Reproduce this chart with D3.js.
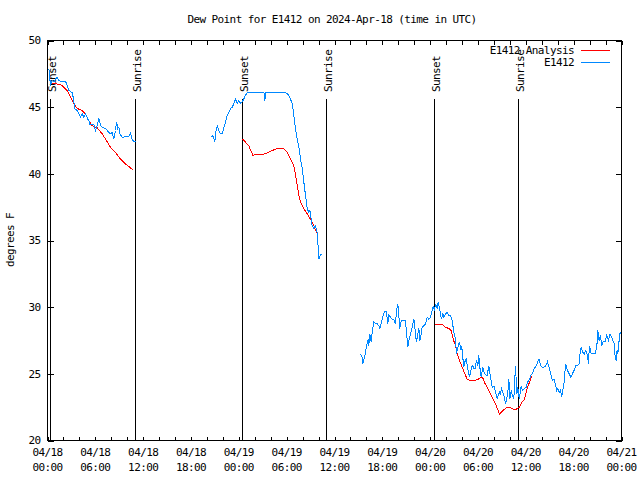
<!DOCTYPE html>
<html><head><meta charset="utf-8">
<script src="https://cdn.jsdelivr.net/npm/d3@7"></script>
<style>
html,body{margin:0;padding:0;background:#fff;}
svg{display:block;}
text{font-family:"DejaVu Sans Mono","Liberation Mono",monospace;font-size:11px;letter-spacing:-0.6px;fill:#000;}
</style></head>
<body><svg id="chart" width="640" height="480"></svg>
<script>
const title = "Dew Point for E1412 on 2024-Apr-18 (time in UTC)";
const yLabel = "degrees F";
const seriesNames = ["E1412 Analysis", "E1412"];
const yTicks = [20, 25, 30, 35, 40, 45, 50];
const xTickHours = [0,2,4,6,8,10,12,14,16,18,20,22,24,26,28,30,32,34,36,38,40,42,44,46,48,50,52,54,56,58,60,62,64,66,68,70,72];
const xLabelHours = [0,6,12,18,24,30,36,42,48,54,60,66,72];
const xLabelDays  = ["04/18","04/18","04/18","04/18","04/19","04/19","04/19","04/19","04/20","04/20","04/20","04/20","04/21"];
const xLabelTimes = ["00:00","06:00","12:00","18:00","00:00","06:00","12:00","18:00","00:00","06:00","12:00","18:00","00:00"];
const eventNames = ["Sunset","Sunrise","Sunset","Sunrise","Sunset","Sunrise"];
const eventHours = [0.38, 11.08, 24.5, 35.09, 48.58, 59.12];

// Analysis (red), [hours since 04/18 00:00 UTC, dew point F]
const analysisSeg1 = [[0.4,46.8],[1.0,46.75],[1.63,46.7],[2.04,46.5],[2.47,46.25],[2.89,45.75],[3.3,45.25],[3.73,44.9],[4.35,44.75],[4.77,44.5],[5.18,44.0],[5.61,43.6],[6.23,43.45],[6.86,43.0],[7.49,42.4],[7.9,42.0],[8.53,41.6],[9.24,41.05],[9.87,40.7],[10.5,40.4],[10.75,40.3]];
const analysisSeg2 = [[24.5,42.6],[25.25,42.1],[25.75,41.4],[26.5,41.45],[27.35,41.5],[28.2,41.75],[28.8,41.9],[29.64,41.9],[30.07,41.6],[30.48,41.1],[30.9,40.6],[31.2,39.6],[31.52,38.4],[31.74,37.9],[32.15,37.4],[32.58,37.0],[32.99,36.6],[33.4,36.1],[33.83,35.5]];
const analysisSeg3 = [[48.55,28.7],[49.51,28.7],[49.92,28.5],[50.34,28.4],[50.64,28.25],[50.89,27.6],[51.18,27.1],[51.39,26.5],[51.68,26.0],[52.02,25.5],[52.35,25.0],[52.65,24.6],[52.97,24.5],[53.48,24.5],[53.9,24.55],[54.4,24.75],[54.65,24.65],[54.85,24.3],[55.16,24.0],[55.48,23.6],[55.78,23.25],[56.2,22.75],[56.41,22.4],[56.7,22.0],[57.04,22.2],[57.45,22.4],[57.74,22.5],[58.08,22.45],[58.49,22.35],[58.7,22.3],[58.92,22.4],[59.21,22.5],[59.55,22.9],[59.75,23.0],[59.96,23.4],[60.17,23.9],[60.38,24.25],[60.59,24.6],[60.71,24.8]];

// Observations (blue)
const obsSeg1 = [[0.17,47.9],[0.38,46.6],[0.59,47.0],[0.8,46.9],[1.01,47.1],[1.22,47.25],[1.42,47.0],[1.63,46.95],[2.05,46.95],[2.26,46.95],[2.47,46.6],[2.67,46.25],[3.1,46.1],[3.3,45.5],[3.39,44.9],[3.73,44.75],[3.94,44.5],[4.14,44.25],[4.35,44.5],[4.56,44.25],[4.77,44.5],[5.06,44.1],[5.18,44.0],[5.31,43.7],[5.81,43.7],[6.02,43.25],[6.23,43.6],[6.44,44.2],[6.65,43.6],[6.86,43.5],[7.28,43.4],[7.49,43.25],[7.9,43.0],[8.11,43.1],[8.32,42.6],[8.53,43.25],[8.66,43.9],[8.82,43.4],[8.95,43.5],[9.07,43.0],[9.37,42.75],[9.57,42.75],[9.78,42.8],[10.2,42.8],[10.41,43.05],[10.62,42.6],[10.83,42.4],[11.04,42.4]];
const obsSeg2 = [[20.57,42.75],[20.74,42.9],[20.99,42.4],[21.15,43.3],[21.29,43.6],[21.49,43.25],[21.7,43.0],[21.9,43.0],[22.1,43.4],[22.33,43.9],[22.54,44.4],[22.74,44.6],[22.96,44.9],[23.17,45.0],[23.37,45.25],[23.58,45.6],[23.8,45.3],[24.0,45.5],[24.2,45.3],[24.42,45.4],[24.62,45.6],[24.84,45.9],[25.05,46.1],[27.15,46.1],[27.26,45.5],[27.4,46.1],[29.8,46.1],[30.07,46.0],[30.27,45.9],[30.48,45.6],[30.7,45.25],[30.9,44.4],[31.1,43.4],[31.32,42.6],[31.52,42.1],[31.74,41.1],[31.95,40.4],[32.15,39.4],[32.36,38.4],[32.58,37.4],[32.78,37.1],[32.9,37.3],[32.99,36.9],[33.2,36.1],[33.4,35.9],[33.62,36.1],[33.83,35.6],[33.96,34.4],[34.03,33.6],[34.24,33.9],[34.46,34.0]];
const obsSeg3 = [[39.26,26.5],[39.48,26.25],[39.55,25.75],[39.76,26.25],[39.89,26.6],[40.02,27.1],[40.23,27.6],[40.3,27.1],[40.43,28.0],[40.6,27.4],[40.73,28.1],[40.93,28.9],[41.14,28.75],[41.35,28.75],[41.56,28.6],[41.68,28.4],[41.85,28.75],[42.06,29.25],[42.27,29.7],[42.49,29.7],[42.69,28.75],[42.81,29.4],[43.03,29.25],[43.24,29.1],[43.44,29.1],[43.65,28.75],[43.78,29.75],[43.94,30.25],[44.07,29.4],[44.19,28.4],[44.37,29.0],[44.91,29.0],[45.03,28.1],[45.2,27.0],[45.32,27.5],[45.53,28.0],[45.75,28.5],[45.95,29.1],[46.07,28.6],[46.16,27.9],[46.29,27.4],[46.45,28.0],[46.58,28.4],[46.7,27.5],[46.88,28.0],[47.0,28.5],[47.2,28.6],[47.42,28.75],[47.63,29.25],[47.83,29.1],[48.04,29.2],[48.38,30.1],[48.55,29.75],[48.67,30.25],[48.88,29.9],[49.01,30.4],[49.17,29.9],[49.3,29.5],[49.42,29.1],[49.59,29.5],[49.71,29.25],[49.92,29.5],[50.14,29.6],[50.34,29.4],[50.55,29.4],[50.76,29.0],[50.97,28.1],[51.18,27.6],[51.3,26.5],[51.52,27.1],[51.68,27.4],[51.81,26.9],[51.95,27.1],[52.09,26.25],[52.22,25.5],[52.35,25.9],[52.52,26.1],[52.65,25.6],[52.77,25.25],[52.94,24.75],[53.06,25.1],[53.19,25.5],[53.35,25.6],[53.48,25.4],[53.65,25.4],[53.81,26.0],[53.98,25.6],[54.1,26.4],[54.23,25.5],[54.4,24.75],[54.6,25.5],[54.82,25.0],[55.03,24.9],[55.15,24.9],[55.36,25.6],[55.48,25.1],[55.66,24.4],[55.78,24.0],[56.0,24.1],[56.2,23.6],[56.41,23.1],[56.54,23.4],[56.7,23.6],[56.8,23.5],[56.95,23.9],[57.11,23.6],[57.24,23.4],[57.45,22.75],[57.58,23.1],[57.74,23.6],[57.87,24.6],[57.99,23.1],[58.17,23.75],[58.29,23.4],[58.49,23.1],[58.7,25.6],[58.88,23.5],[59.0,24.0],[59.17,23.1],[59.29,23.6],[59.42,24.1],[59.58,23.75],[59.83,23.9],[60.04,24.0],[60.25,24.4],[60.45,24.6],[60.66,24.9],[60.87,25.1],[61.07,25.4],[61.28,25.6],[61.5,25.9],[61.66,26.1],[61.87,25.6],[62.08,25.5],[62.29,25.5],[62.5,25.6],[62.71,25.9],[62.92,25.5],[63.13,25.0],[63.33,24.5],[63.54,24.6],[63.75,24.1],[63.88,23.75],[64.0,23.9],[64.17,23.6],[64.34,23.75],[64.5,23.3],[64.63,23.75],[64.84,24.5],[64.92,25.25],[65.01,25.75],[65.22,25.25],[65.43,25.0],[65.64,24.75],[65.84,25.0],[66.05,25.25],[66.26,25.6],[66.47,25.6],[66.68,25.75],[66.8,26.5],[66.93,27.0],[67.14,26.6],[67.35,26.5],[67.52,26.75],[67.73,26.4],[67.85,25.75],[67.98,27.1],[68.19,26.5],[68.4,26.5],[68.69,26.5],[68.9,27.0],[69.03,28.25],[69.19,27.5],[69.36,27.9],[69.53,27.1],[69.69,27.4],[69.95,27.4],[70.16,27.9],[70.36,27.5],[70.57,28.0],[70.78,27.75],[70.98,27.4],[71.11,27.25],[71.2,26.25],[71.32,26.0],[71.45,26.75],[71.54,26.5],[71.7,27.5],[71.83,28.1],[71.95,28.1]];

const analysisSegs = [analysisSeg1, analysisSeg2, analysisSeg3];
const obsSegs = [obsSeg1, obsSeg2, obsSeg3];
const colors = {analysis: "#ff0000", obs: "#0088ff"};

const L = 47.5, R = 621.5, T = 40.5, B = 440.5;
const t0 = Date.UTC(2024, 3, 18);
const toDate = h => new Date(t0 + h * 3600e3);

const svg = d3.select("#chart");
svg.append("rect").attr("width",640).attr("height",480).attr("fill","#fff");

const x = d3.scaleUtc().domain([toDate(0), toDate(72)]).range([L, R]);
const y = d3.scaleLinear().domain([20, 50]).range([B, T]);

// axes (inward ticks, mirrored)
function styleAxis(g){ g.select(".domain").remove(); g.selectAll("line").attr("stroke","#000").attr("shape-rendering","crispEdges"); g.selectAll("text").remove(); }
const xTickDates = xTickHours.map(toDate);
svg.append("g").attr("transform",`translate(0,${B})`).call(d3.axisBottom(x).tickValues(xTickDates).tickSize(-4).tickFormat("")).call(styleAxis);
svg.append("g").attr("transform",`translate(0,${T})`).call(d3.axisTop(x).tickValues(xTickDates).tickSize(-4).tickFormat("")).call(styleAxis);
svg.append("g").attr("transform",`translate(${L},0)`).call(d3.axisLeft(y).tickValues(yTicks).tickSize(-6).tickFormat("")).call(styleAxis);
svg.append("g").attr("transform",`translate(${R},0)`).call(d3.axisRight(y).tickValues(yTicks).tickSize(-6).tickFormat("")).call(styleAxis);

// frame
svg.append("rect").attr("x",L).attr("y",T).attr("width",R-L).attr("height",B-T)
  .attr("fill","none").attr("stroke","#000").attr("shape-rendering","crispEdges");

// y tick labels
svg.append("g").selectAll("text").data(yTicks).join("text")
  .attr("x", L - 7).attr("y", d => y(d)).attr("dy","0.35em").attr("text-anchor","end").text(d => d);

// x tick labels (two lines)
const xl = svg.append("g").selectAll("g").data(xLabelHours).join("g")
  .attr("transform", d => `translate(${x(toDate(d))},0)`);
xl.append("text").attr("y", 452).attr("dy","0.35em").attr("text-anchor","middle").text((d,i) => xLabelDays[i]);
xl.append("text").attr("y", 467).attr("dy","0.35em").attr("text-anchor","middle").text((d,i) => xLabelTimes[i]);

// title & y label
svg.append("text").attr("x", 332).attr("y", 19).attr("dy","0.35em").attr("text-anchor","middle").text(title);
svg.append("text").attr("transform","translate(10,240) rotate(-90)").attr("dy","0.35em").attr("text-anchor","middle").text(yLabel);

// sunrise / sunset markers
const ev = svg.append("g").selectAll("g").data(eventHours).join("g")
  .attr("transform", d => `translate(${Math.round(x(toDate(d))) - 0.5},0)`);
ev.append("line").attr("y1", 99).attr("y2", B).attr("stroke","#000").attr("shape-rendering","crispEdges");
ev.append("text").attr("transform","translate(5,92) rotate(-90)").attr("text-anchor","start").text((d,i) => eventNames[i]);

// data lines
const line = d3.line().x(d => x(toDate(d[0]))).y(d => y(d[1]));
svg.append("g").selectAll("path").data(analysisSegs).join("path")
  .attr("d", line).attr("fill","none").attr("stroke", colors.analysis).attr("stroke-width",1).attr("shape-rendering","crispEdges");
svg.append("g").selectAll("path").data(obsSegs).join("path")
  .attr("d", line).attr("fill","none").attr("stroke", colors.obs).attr("stroke-width",1).attr("shape-rendering","crispEdges");

// legend
const lg = svg.append("g");
[[seriesNames[0], colors.analysis, 50.5],[seriesNames[1], colors.obs, 62.5]].forEach(([name, c, ly]) => {
  lg.append("text").attr("x", 574).attr("y", ly).attr("dy","0.35em").attr("text-anchor","end").text(name);
  lg.append("line").attr("x1", 581).attr("x2", 610).attr("y1", ly).attr("y2", ly).attr("stroke", c).attr("shape-rendering","crispEdges");
});
</script></body></html>
